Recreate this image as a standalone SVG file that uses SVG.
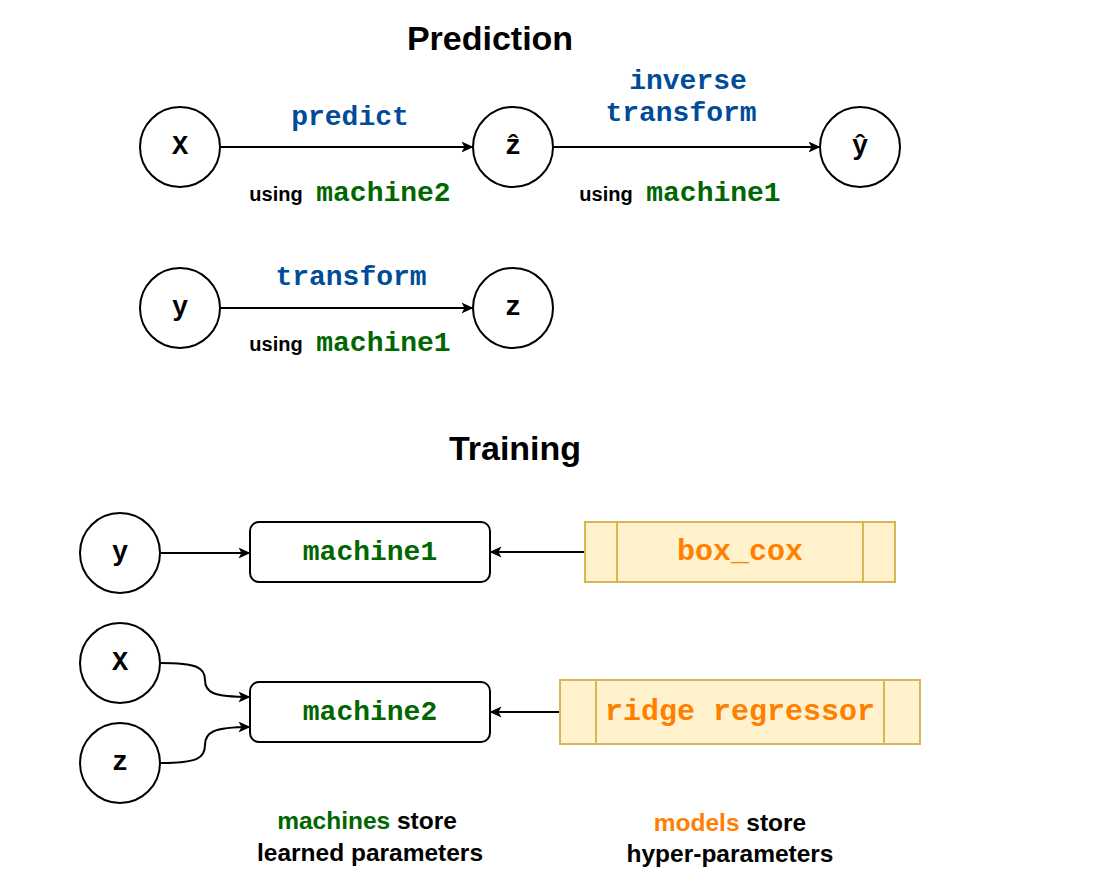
<svg xmlns="http://www.w3.org/2000/svg" width="1101" height="888" viewBox="0 0 1101 888">
<defs>
<marker id="arr" viewBox="0 0 12 12" refX="11.5" refY="6" markerWidth="12" markerHeight="12" markerUnits="userSpaceOnUse" orient="auto">
<path d="M0,0.5 L12,6 L0,11.5 L3,6 Z" fill="#000"/>
</marker>
<style>
.circ{fill:#fff;stroke:#000;stroke-width:2}
.box{fill:#fff;stroke:#000;stroke-width:2}
.model{fill:#fff2cc;stroke:#d6b656;stroke-width:2}
.edge{fill:none;stroke:#000;stroke-width:2;marker-end:url(#arr)}
.mono{font-family:"Liberation Mono","Courier New","DejaVu Sans Mono",monospace;font-weight:bold}
.nl{font-size:27px;fill:#000;text-anchor:middle;dominant-baseline:central}
.blue{font-size:28px;fill:#004c99;text-anchor:middle}
.green{fill:#006600}
.orange{fill:#ff8000}
.sans{font-family:"Liberation Sans",Arial,Helvetica,sans-serif;font-weight:bold}
.title{font-size:34px;fill:#000;text-anchor:middle}
</style>
</defs>
<rect width="1101" height="888" fill="#fff"/>
<text class="sans title" x="490" y="50">Prediction</text>
<text class="sans title" x="515" y="460">Training</text>

<g id="connectors">
<line class="edge" x1="220" y1="147" x2="473" y2="147"/>
<line class="edge" x1="553" y1="147" x2="820" y2="147"/>
<line class="edge" x1="220" y1="308" x2="473" y2="308"/>
<line class="edge" x1="160" y1="553" x2="250" y2="553"/>
<line class="edge" x1="585" y1="552" x2="490" y2="552"/>
<line class="edge" x1="560" y1="712" x2="490" y2="712"/>
<path class="edge" d="M160,663 C198,663 205,668 205,680 C205,692 212,697 250,697"/>
<path class="edge" d="M160,763 C198,763 205,758 205,745 C205,733 212,727 250,727"/>
</g>

<g id="label-predict">
<text class="mono blue" x="350" y="125">predict</text>
<text x="350" y="201" text-anchor="middle"><tspan class="sans" font-size="20" fill="#000">using </tspan><tspan class="mono green" font-size="28" dx="8">machine2</tspan></text>
</g>
<g id="label-inverse">
<text class="mono blue" x="688" y="89">inverse</text>
<text class="mono blue" x="681" y="121">transform</text>
<text x="680" y="201" text-anchor="middle"><tspan class="sans" font-size="20" fill="#000">using </tspan><tspan class="mono green" font-size="28" dx="8">machine1</tspan></text>
</g>
<g id="label-transform">
<text class="mono blue" x="351" y="285">transform</text>
<text x="350" y="351" text-anchor="middle"><tspan class="sans" font-size="20" fill="#000">using </tspan><tspan class="mono green" font-size="28" dx="8">machine1</tspan></text>
</g>

<g id="node-X1"><circle class="circ" cx="180" cy="147" r="40"/><text class="mono nl" x="180" y="147">X</text></g>
<g id="node-zhat"><circle class="circ" cx="513" cy="147" r="40"/><text class="mono nl" x="513" y="147">ẑ</text></g>
<g id="node-yhat"><circle class="circ" cx="860" cy="147" r="40"/><text class="mono nl" x="860" y="147">ŷ</text></g>
<g id="node-y1"><circle class="circ" cx="180" cy="308" r="40"/><text class="mono nl" x="180" y="308">y</text></g>
<g id="node-z1"><circle class="circ" cx="513" cy="308" r="40"/><text class="mono nl" x="513" y="308">z</text></g>

<g id="node-y2"><ellipse class="circ" cx="120" cy="553" rx="40" ry="40"/><text class="mono nl" x="120" y="553">y</text></g>
<g id="node-X2"><ellipse class="circ" cx="120" cy="663" rx="40" ry="40"/><text class="mono nl" x="120" y="663">X</text></g>
<g id="node-z2"><ellipse class="circ" cx="120" cy="763" rx="40" ry="40"/><text class="mono nl" x="120" y="763">z</text></g>

<g id="node-machine1"><rect class="box" x="250" y="522" width="240" height="60" rx="9"/><text class="mono green" font-size="28" x="370" y="552" text-anchor="middle" dominant-baseline="central">machine1</text></g>
<g id="node-machine2"><rect class="box" x="250" y="682" width="240" height="60" rx="9"/><text class="mono green" font-size="28" x="370" y="712" text-anchor="middle" dominant-baseline="central">machine2</text></g>

<g id="node-boxcox"><rect class="model" x="585" y="522" width="310" height="60"/><line class="model" x1="617" y1="522" x2="617" y2="582"/><line class="model" x1="863" y1="522" x2="863" y2="582"/><text class="mono orange" font-size="30" x="740" y="552" text-anchor="middle" dominant-baseline="central">box_cox</text></g>
<g id="node-ridge"><rect class="model" x="560" y="680" width="360" height="64"/><line class="model" x1="596" y1="680" x2="596" y2="744"/><line class="model" x1="884" y1="680" x2="884" y2="744"/><text class="mono orange" font-size="30" x="740" y="712" text-anchor="middle" dominant-baseline="central">ridge regressor</text></g>

<g id="note-machines">
<text class="sans" font-size="24.5" x="367" y="829" text-anchor="middle"><tspan fill="#006600">machines</tspan><tspan fill="#000"> store</tspan></text>
<text class="sans" font-size="24.5" x="370" y="861" text-anchor="middle" fill="#000">learned parameters</text>
</g>
<g id="note-models">
<text class="sans" font-size="24.5" x="730" y="831" text-anchor="middle"><tspan fill="#ff8000">models</tspan><tspan fill="#000"> store</tspan></text>
<text class="sans" font-size="24.5" x="730" y="862" text-anchor="middle" fill="#000">hyper-parameters</text>
</g>
</svg>
